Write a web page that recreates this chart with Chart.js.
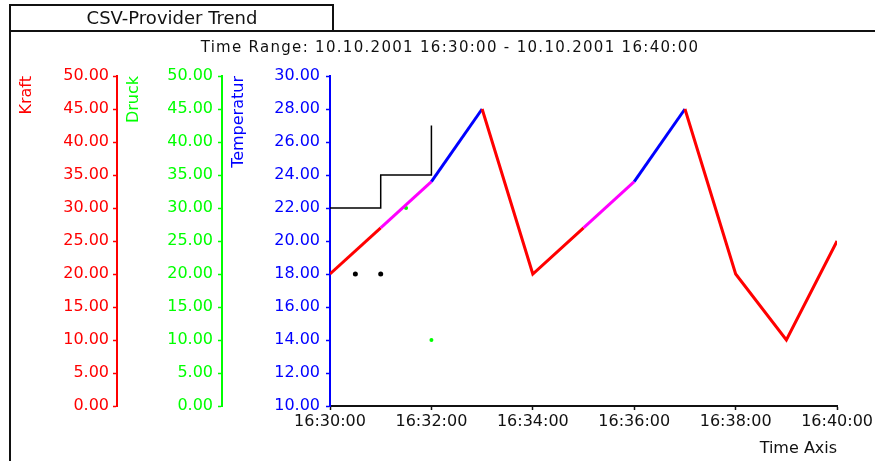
<!DOCTYPE html>
<html>
<head>
<meta charset="utf-8">
<script src="https://cdn.jsdelivr.net/npm/chart.js@4.4.0/dist/chart.umd.min.js"></script>
<style>
  html, body { margin: 0; padding: 0; background: #fff; }
  #wrap { position: relative; width: 875px; height: 461px; overflow: hidden; font-family: 'DejaVu Sans', sans-serif; }
  #chart { position: absolute; left: 0; top: 0; }
  .ln { position: absolute; background: #111; }
  #tabText { position: absolute; left: 10px; width: 324px; top: 7px; text-align: center; font-size: 18px; line-height: 22px; color: #111; }
  #range { position: absolute; left: 0; width: 900px; top: 38px; text-align: center; font-size: 15px; letter-spacing: 1.3px; line-height: 18px; color: #111; }
</style>
</head>
<body>
<div id="wrap">
  <canvas id="chart" width="875" height="461"></canvas>
  <div class="ln" style="left:9px;top:4px;width:2px;height:457px"></div>
  <div class="ln" style="left:9px;top:4px;width:325px;height:2px"></div>
  <div class="ln" style="left:332px;top:4px;width:2px;height:28px"></div>
  <div class="ln" style="left:9px;top:30px;width:866px;height:2px"></div>
  <div id="tabText">CSV-Provider Trend</div>
  <div id="range">Time Range: 10.10.2001 16:30:00 - 10.10.2001 16:40:00</div>
</div>
<script>
// x tick labels (every 2 minutes)
const xTickLabels = ['16:30:00', '16:32:00', '16:34:00', '16:36:00', '16:38:00', '16:40:00'];

// main temperature trend
const tempTimes = ['16:30:00', '16:31:00', '16:32:00', '16:33:00', '16:34:00', '16:35:00',
                   '16:36:00', '16:37:00', '16:38:00', '16:39:00', '16:40:00'];
const tempValues = [18, 20.8, 23.6, 28, 18, 20.8, 23.6, 28, 18, 14, 20];
const segColors = ['#ff0000', '#ff00ff', '#0000ff', '#ff0000', '#ff0000', '#ff00ff',
                   '#0000ff', '#ff0000', '#ff0000', '#ff0000'];

// black step line
const stepTimes = ['16:30:00', '16:31:00', '16:32:00'];
const stepValues = [22, 24, 27];

// black single points
const dotTimes = ['16:30:30', '16:31:00'];
const dotValues = [18, 18];

// green pressure points
const druckTimes = ['16:31:30', '16:32:00'];
const druckValues = [30, 10];

function toMin(t) {
    const p = t.split(':').map(Number);
    return p[0] * 60 + p[1] + p[2] / 60 - (16 * 60 + 30);
}
function pts(times, vals) {
    return times.map((t, i) => ({ x: toMin(t), y: vals[i] }));
}

Chart.defaults.font.family = "'DejaVu Sans', sans-serif";
Chart.defaults.font.size = 16;

function yAxis(color, min, max, step, weight, width, title, pad) {
    return {
        type: 'linear', position: 'left', weight: weight,
        min: min, max: max,
        afterFit: s => { s.width = width; },
        title: { display: true, text: title, color: color, align: 'end', padding: { top: 7, bottom: 0 }, font: { size: 16 } },
        ticks: { stepSize: step, autoSkip: false, color: color, padding: pad, callback: v => v.toFixed(2) },
        grid: { drawOnChartArea: false, drawTicks: true, tickLength: 4, tickColor: color, tickWidth: 1.5, color: color },
        border: { color: color, width: 2 }
    };
}

new Chart(document.getElementById('chart'), {
    type: 'line',
    data: {
        datasets: [
            {
                data: pts(tempTimes, tempValues), yAxisID: 'temp',
                borderWidth: 3, pointRadius: 0,
                segment: { borderColor: c => segColors[c.p0DataIndex] },
                borderColor: '#ff0000'
            },
            {
                data: pts(stepTimes, stepValues), yAxisID: 'temp',
                stepped: 'before', borderColor: '#000', borderWidth: 1.5, pointRadius: 0
            },
            {
                data: pts(dotTimes, dotValues), yAxisID: 'temp', showLine: false,
                pointRadius: 2.5, pointBackgroundColor: '#000', pointBorderWidth: 0
            },
            {
                data: pts(druckTimes, druckValues), yAxisID: 'druck', showLine: false,
                pointRadius: 2, pointBackgroundColor: '#00ff00', pointBorderWidth: 0
            }
        ]
    },
    options: {
        responsive: false,
        animation: false,
        layout: { padding: { left: 10, top: 76, right: 37, bottom: 0 } },
        plugins: { legend: { display: false }, tooltip: { enabled: false } },
        scales: {
            x: {
                type: 'linear', min: 0, max: 10,
                afterFit: s => { s.height = 55; },
                ticks: { stepSize: 2, autoSkip: false, color: '#111', padding: 2, maxRotation: 0,
                         callback: (v, i) => xTickLabels[i] },
                grid: { drawOnChartArea: false, drawTicks: true, tickLength: 4, tickColor: '#111', tickWidth: 1.5 },
                border: { color: '#111', width: 2 },
                title: { display: true, text: 'Time Axis', color: '#111', align: 'end', padding: { top: 0, bottom: 3 } }
            },
            kraft: yAxis('#ff0000', 0, 50, 5, 3, 107, 'Kraft', 4),
            druck: yAxis('#00ff00', 0, 50, 5, 2, 105, 'Druck', 5),
            temp: yAxis('#0000ff', 10, 30, 2, 1, 108, 'Temperatur', 6)
        }
    }
});
</script>
</body>
</html>
